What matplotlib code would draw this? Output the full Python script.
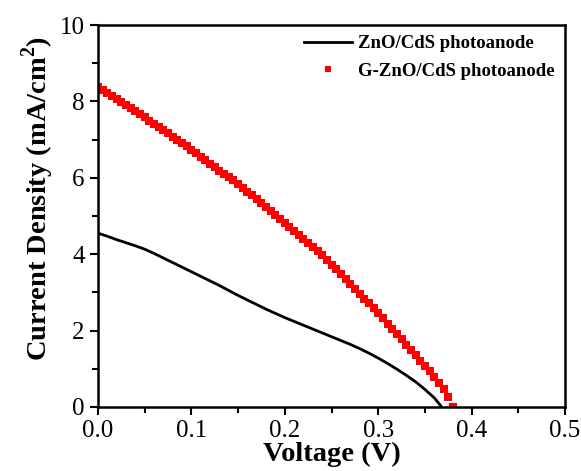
import matplotlib
matplotlib.use('Agg')
import matplotlib.pyplot as plt
import numpy as np
from matplotlib.ticker import MultipleLocator

plt.rcParams['font.family'] = ['Liberation Serif', 'DejaVu Serif']
plt.rcParams['mathtext.fontset'] = 'custom'
plt.rcParams['mathtext.rm'] = 'Liberation Serif:bold'
plt.rcParams['mathtext.bf'] = 'Liberation Serif:bold'

# ZnO/CdS photoanode (black line)
v_zno = [0.00, 0.01, 0.02, 0.03, 0.04, 0.05, 0.06, 0.07, 0.08, 0.09,
         0.10, 0.11, 0.12, 0.13, 0.14, 0.15, 0.16, 0.17, 0.18, 0.19,
         0.20, 0.21, 0.22, 0.23, 0.24, 0.25, 0.26, 0.27, 0.28, 0.29,
         0.30, 0.31, 0.32, 0.33, 0.34, 0.35, 0.36, 0.368]
j_zno = [4.55, 4.47, 4.38, 4.30, 4.22, 4.13, 4.02, 3.90, 3.78, 3.66,
         3.54, 3.42, 3.30, 3.18, 3.05, 2.92, 2.80, 2.68, 2.56, 2.45,
         2.34, 2.24, 2.14, 2.04, 1.94, 1.84, 1.74, 1.64, 1.53, 1.41,
         1.28, 1.14, 0.99, 0.83, 0.66, 0.46, 0.24, 0.00]

# G-ZnO/CdS photoanode (red squares), 5 mV steps
v_gzno = [i * 0.005 for i in range(77)]
j_gzno = [8.38, 8.31, 8.23, 8.15, 8.07, 7.99, 7.91, 7.83, 7.74, 7.66,
          7.58, 7.50, 7.41, 7.33, 7.24, 7.16, 7.08, 7.00, 6.91, 6.82,
          6.73, 6.64, 6.55, 6.46, 6.37, 6.28, 6.19, 6.11, 6.02, 5.93,
          5.84, 5.74, 5.64, 5.54, 5.44, 5.34, 5.23, 5.13, 5.02, 4.92,
          4.81, 4.71, 4.60, 4.50, 4.39, 4.29, 4.18, 4.08, 3.97, 3.85,
          3.73, 3.61, 3.48, 3.36, 3.23, 3.10, 2.97, 2.84, 2.71, 2.58,
          2.45, 2.32, 2.18, 2.05, 1.91, 1.77, 1.63, 1.49, 1.35, 1.21,
          1.07, 0.93, 0.79, 0.63, 0.47, 0.25, 0.00]

fig = plt.figure(figsize=(5.81, 4.71), dpi=100)
ax = fig.add_axes([0.1687, 0.1359, 0.8038, 0.811])

ax.plot(v_zno, j_zno, color='black', lw=2.0, label='ZnO/CdS photoanode')
ax.plot(v_gzno, j_gzno, 's', color='red', ms=5.4, mew=0, label='G-ZnO/CdS photoanode')

ax.set_xlim(0, 0.5)
ax.set_ylim(0, 10)
ax.xaxis.set_major_locator(MultipleLocator(0.1))
ax.xaxis.set_minor_locator(MultipleLocator(0.05))
ax.yaxis.set_major_locator(MultipleLocator(2))
ax.yaxis.set_minor_locator(MultipleLocator(1))
ax.xaxis.set_major_formatter(matplotlib.ticker.FormatStrFormatter('%.1f'))
ax.tick_params(which='major', direction='out', length=6, width=1.5, labelsize=18)
ax.tick_params(which='minor', direction='out', length=4, width=1.5)
for s in ax.spines.values():
    s.set_linewidth(1.8)

ax.set_xlabel('Voltage (V)', fontsize=20.5, fontweight='bold', labelpad=0)
ax.set_ylabel('Current Density (mA/cm$^{2}$)', fontsize=20.5, fontweight='bold')
ax.yaxis.set_label_coords(-0.09, 0.545)

leg = ax.legend(loc='upper right', frameon=False, prop={'weight': 'bold', 'size': 13.5},
                handlelength=2.6, handletextpad=0.3, borderaxespad=0.15, labelspacing=0.55,
                markerscale=0.9)

fig.savefig('out.png', dpi=100)
